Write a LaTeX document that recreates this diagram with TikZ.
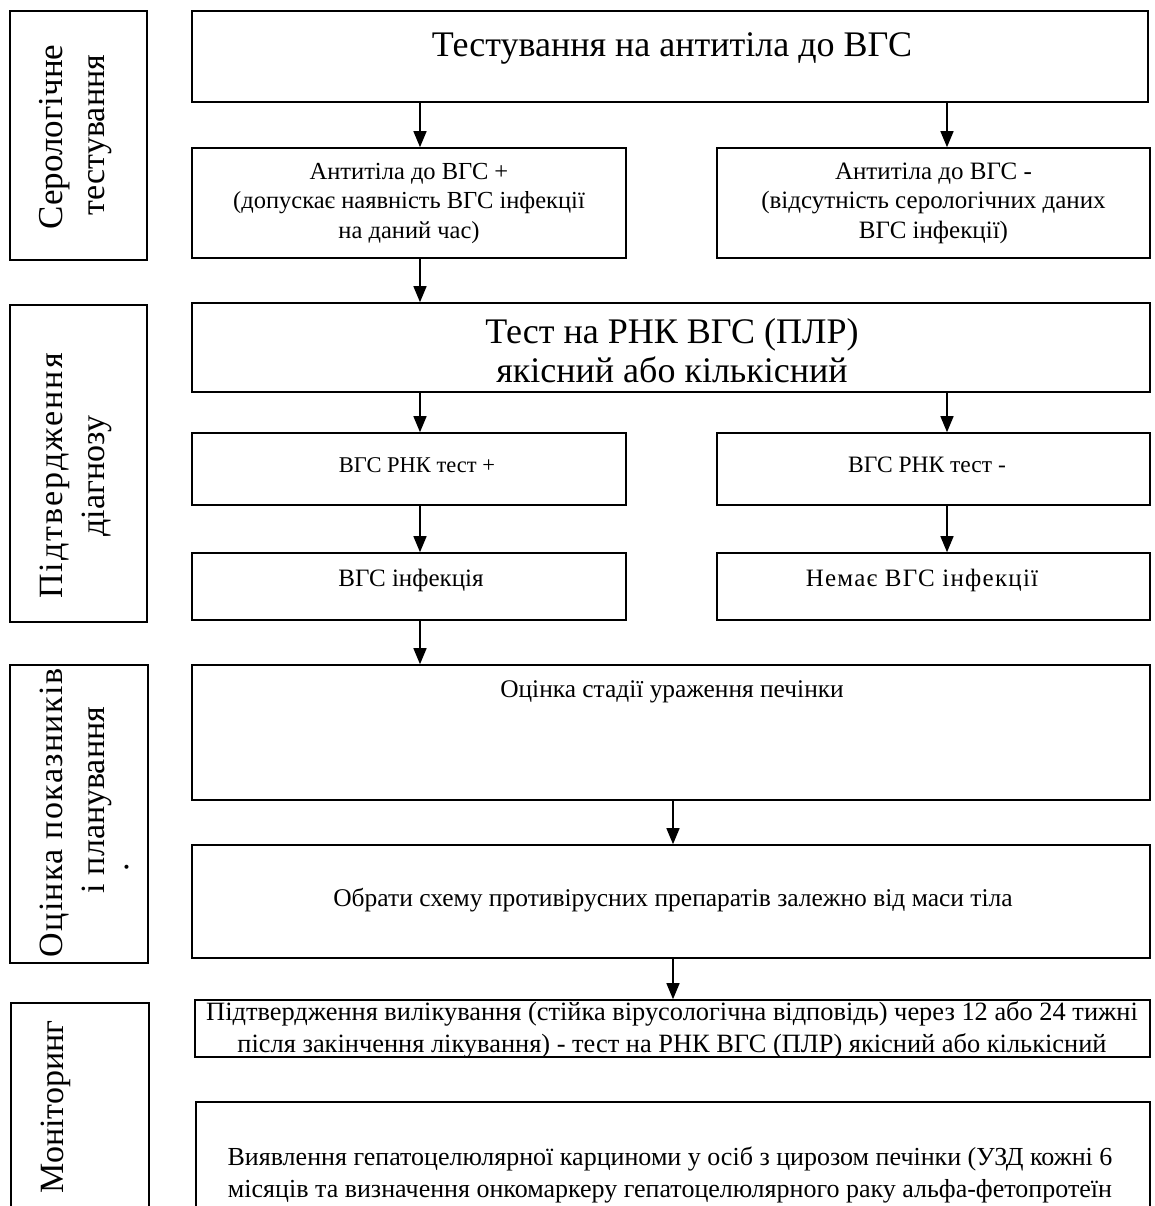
\documentclass[tikz,border=0pt]{standalone}
\usepackage{fontspec}
\setmainfont{Liberation Serif}
\usetikzlibrary{arrows.meta}
\newcommand\lsp[1]{\addfontfeatures{LetterSpace=#1}}
\newcommand\fs[2]{\fontsize{#1}{#2}\selectfont}
\begin{document}
\begin{tikzpicture}[x=1pt,y=-1pt,
  box/.style={draw,line width=1.6pt,rectangle,inner sep=0pt,align=center},
  lbl/.style={inner sep=0pt,align=center},
  arr/.style={line width=1.4pt,-{Triangle[width=13pt,length=16pt]}},
  side/.style={font=\fs{34}{40}, rotate=90, anchor=base, inner sep=0pt},
]
\path[use as bounding box] (0,0) rectangle (1154,1206);
\clip (0,0) rectangle (1154,1206);
\fill[white] (0,0) rectangle (1154,1206);

% sidebars
\node[box,minimum width=137pt,minimum height=249pt] (s1) at (78.5,135.5) {};
\node[side] (s1a) at (62,137) {\fs{35}{40}Серологічне};
\node[side] (s1b) at (104,135) {тестування};

\node[box,minimum width=137pt,minimum height=317pt] (s2) at (78.5,463.5) {};
\node[side] (s2a) at (62,476) {\lsp{6}Підтвердження};
\node[side] (s2b) at (104,476) {діагнозу};

\node[box,minimum width=138pt,minimum height=298pt] (s3) at (79,814) {};
\node[side] (s3a) at (62,813) {\lsp{4}Оцінка показників};
\node[side] (s3b) at (104,800) {і планування};
\node[side] (s3c) at (128,867) {.};

\node[box,minimum width=138pt,minimum height=240pt] (s4) at (80,1123) {};
\node[side] (s4a) at (63,1107) {Моніторинг};

% main boxes
\node[box,minimum width=956pt,minimum height=91pt] (top) at (670,56.5) {};
\node[lbl,font=\fs{36}{40}] (topt) at (672,48) {Тестування на антитіла до ВГС};

\node[box,minimum width=434pt,minimum height=110pt,font=\fs{24.5}{29.5}] (b2a) at (409,203)
  {Антитіла до ВГС +\\(допускає наявність ВГС інфекції\\на даний час)};
\node[box,minimum width=433pt,minimum height=110pt,font=\fs{25}{29.5}] (b2b) at (933.5,203)
  {Антитіла до ВГС -\\(відсутність серологічних даних\\ВГС інфекції)};

\node[box,minimum width=958pt,minimum height=89pt] (pcr) at (671,347.5) {};
\node[lbl,font=\fs{36}{39}] (pcrt) at (672,351)
  {Тест на РНК ВГС (ПЛР)\\якісний або кількісний};

\node[box,minimum width=434pt,minimum height=72pt] (rp) at (409,469) {};
\node[lbl,font=\fs{22.5}{28}] (rpt) at (417,465) {ВГС РНК тест +};
\node[box,minimum width=433pt,minimum height=72pt] (rn) at (933.5,469) {};
\node[lbl,font=\fs{23.5}{28}] (rnt) at (927,465) {ВГС РНК тест -};

\node[box,minimum width=434pt,minimum height=67pt] (inf) at (409,586.5) {};
\node[lbl,font=\fs{25}{28}] (inft) at (411,580) {ВГС інфекція};
\node[box,minimum width=433pt,minimum height=67pt] (noinf) at (933.5,586.5) {};
\node[lbl,font=\fs{25}{28}\lsp{5}] (noinft) at (922,580) {Немає ВГС інфекції};

\node[box,minimum width=958pt,minimum height=135pt] (liver) at (671,732.5) {};
\node[lbl,font=\fs{25.4}{29}] (livert) at (672,692) {Оцінка стадії ураження печінки};

\node[box,minimum width=958pt,minimum height=113pt] (scheme) at (671,901.5) {};
\node[lbl,font=\fs{25.5}{29}] (schemet) at (673,900)
  {Обрати схему противірусних препаратів залежно від маси тіла};

\node[box,minimum width=955pt,minimum height=57pt] (conf) at (672.5,1028.5) {};
\node[lbl,font=\fs{26.4}{32}] (conft) at (672,1030)
  {Підтвердження вилікування (стійка вірусологічна відповідь) через 12 або 24 тижні\\після закінчення лікування) - тест на РНК ВГС (ПЛР) якісний або кількісний};

\node[box,minimum width=954pt,minimum height=150pt] (hcc) at (673,1177) {};
\node[lbl,font=\fs{26}{31.5}] (hcct) at (670,1175)
  {Виявлення гепатоцелюлярної карциноми у осіб з цирозом печінки (УЗД кожні 6\\місяців та визначення онкомаркеру гепатоцелюлярного раку альфа-фетопротеїн};

% arrow columns
\coordinate (cL) at (420,0);
\coordinate (cR) at (947,0);
\coordinate (cM) at (673,0);

\draw[arr] (top.south -| cL) -- (b2a.north -| cL);
\draw[arr] (top.south -| cR) -- (b2b.north -| cR);
\draw[arr] (b2a.south -| cL) -- (pcr.north -| cL);
\draw[arr] (pcr.south -| cL) -- (rp.north -| cL);
\draw[arr] (pcr.south -| cR) -- (rn.north -| cR);
\draw[arr] (rp.south -| cL) -- (inf.north -| cL);
\draw[arr] (rn.south -| cR) -- (noinf.north -| cR);
\draw[arr] (inf.south -| cL) -- (liver.north -| cL);
\draw[arr] (liver.south -| cM) -- (scheme.north -| cM);
\draw[arr] (scheme.south -| cM) -- (conf.north -| cM);
\end{tikzpicture}
\end{document}
